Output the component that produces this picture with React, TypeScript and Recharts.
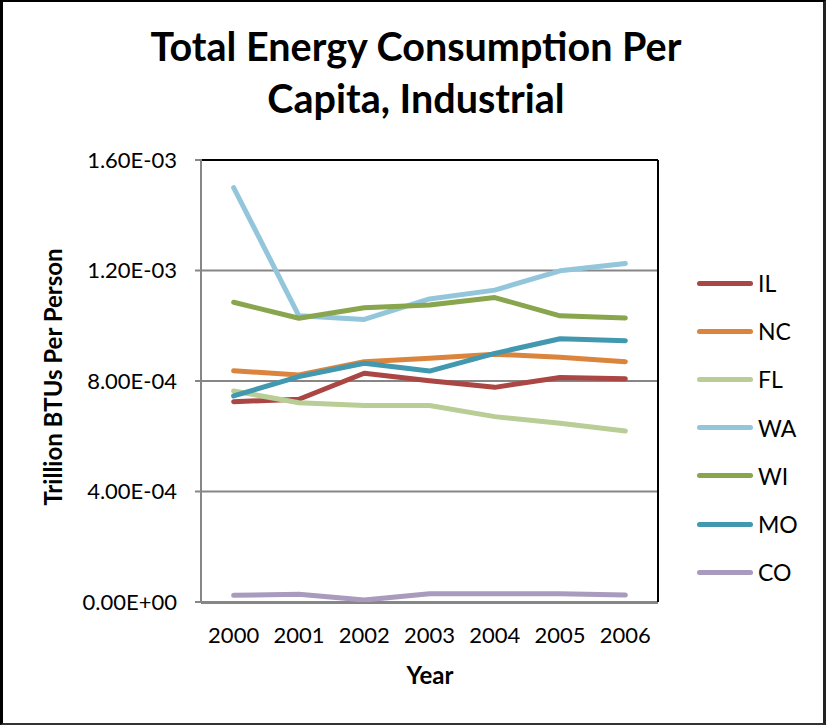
import { LineChart, Line, XAxis, YAxis, CartesianGrid } from "recharts";

const years = [2000, 2001, 2002, 2003, 2004, 2005, 2006];

// Trillion BTUs per person, industrial sector
const IL = [7.25e-4, 7.34e-4, 8.28e-4, 8.01e-4, 7.77e-4, 8.13e-4, 8.08e-4];
const NC = [8.37e-4, 8.22e-4, 8.7e-4, 8.82e-4, 8.97e-4, 8.86e-4, 8.7e-4];
const FL = [7.64e-4, 7.21e-4, 7.11e-4, 7.11e-4, 6.71e-4, 6.47e-4, 6.19e-4];
const WA = [1.5e-3, 1.036e-3, 1.023e-3, 1.097e-3, 1.129e-3, 1.199e-3, 1.225e-3];
const WI = [1.085e-3, 1.027e-3, 1.065e-3, 1.075e-3, 1.102e-3, 1.036e-3, 1.028e-3];
const MO = [7.46e-4, 8.16e-4, 8.64e-4, 8.36e-4, 9.0e-4, 9.53e-4, 9.46e-4];
const CO = [2.4e-5, 2.8e-5, 7e-6, 3.0e-5, 3.0e-5, 3.0e-5, 2.5e-5];

const yTicks = [0, 4e-4, 8e-4, 1.2e-3, 1.6e-3];
const yearEdges = [1999.5, 2000.5, 2001.5, 2002.5, 2003.5, 2004.5, 2005.5, 2006.5];

const series = [
  { key: "IL", values: IL, color: "#AA4643" },
  { key: "NC", values: NC, color: "#DB843D" },
  { key: "FL", values: FL, color: "#B9CD96" },
  { key: "WA", values: WA, color: "#93C6DA" },
  { key: "WI", values: WI, color: "#89A54E" },
  { key: "MO", values: MO, color: "#4198AF" },
  { key: "CO", values: CO, color: "#A99BBD" },
];

const data = years.map((year, i) => {
  const row: Record<string, number> = { year };
  series.forEach((s) => (row[s.key] = s.values[i]));
  return row;
});

const FONT = "Lato, 'Open Sans', sans-serif";
const GRAY = "#868686";
const X_DOMAIN = [1999.5, 2006.5];

// 1.60E-03 style, like a spreadsheet
const sci = (v: number) => {
  const [m, e] = v.toExponential(2).split("e");
  return `${m}E${e[0]}${e.slice(1).padStart(2, "0")}`;
};

export default function App() {
  return (
    <div
      style={{
        position: "absolute",
        left: 0,
        top: 0,
        width: 826,
        height: 725,
        background: "#fff",
        fontFamily: FONT,
      }}
    >
      <div
        style={{
          position: "absolute",
          left: 16,
          width: 800,
          top: 20,
          textAlign: "center",
          fontSize: 39.5,
          fontWeight: 700,
          lineHeight: "52px",
          color: "#000",
        }}
      >
        Total Energy Consumption Per
        <br />
        Capita, Industrial
      </div>

      <LineChart
        width={826}
        height={725}
        data={data}
        margin={{ top: 159, right: 167, bottom: 121, left: 0 }}
      >
        <CartesianGrid vertical={false} stroke={GRAY} strokeWidth={2} />
        {/* tick marks sit between the years */}
        <XAxis
          xAxisId="edges"
          dataKey="year"
          type="number"
          domain={X_DOMAIN}
          ticks={yearEdges}
          tick={false}
          height={1}
          tickSize={7}
          tickLine={{ stroke: GRAY, strokeWidth: 2 }}
          axisLine={{ stroke: GRAY, strokeWidth: 2 }}
        />
        <XAxis
          dataKey="year"
          type="number"
          domain={X_DOMAIN}
          ticks={years}
          height={1}
          tickSize={0}
          tickMargin={25}
          tickLine={false}
          axisLine={false}
          tick={{ fontSize: 22, fill: "#000", fontFamily: FONT }}
        />
        <XAxis
          xAxisId="top"
          orientation="top"
          dataKey="year"
          type="number"
          domain={X_DOMAIN}
          height={1}
          tick={false}
          tickLine={false}
          axisLine={{ stroke: "#000", strokeWidth: 2 }}
        />
        <YAxis
          domain={[0, 1.6e-3]}
          ticks={yTicks}
          width={201}
          tickSize={6}
          tickMargin={18}
          tickFormatter={sci}
          tick={{ fontSize: 22, fill: "#000", fontFamily: FONT }}
          tickLine={{ stroke: GRAY, strokeWidth: 2 }}
          axisLine={{ stroke: GRAY, strokeWidth: 2 }}
        />
        <YAxis
          yAxisId="right"
          orientation="right"
          width={1}
          tick={false}
          tickLine={false}
          axisLine={{ stroke: "#000", strokeWidth: 2 }}
        />
        {series.map((s) => (
          <Line
            key={s.key}
            dataKey={s.key}
            stroke={s.color}
            strokeWidth={5}
            strokeLinecap="round"
            strokeLinejoin="round"
            dot={false}
            activeDot={false}
            isAnimationActive={false}
          />
        ))}
      </LineChart>

      {/* value axis line, drawn over the plot edge */}
      <div
        style={{
          position: "absolute",
          left: 200,
          top: 159,
          width: 2,
          height: 444,
          background: GRAY,
        }}
      />

      <div
        style={{
          position: "absolute",
          left: 52,
          top: 377,
          transform: "translate(-50%, -50%) rotate(-90deg)",
          fontSize: 24,
          fontWeight: 700,
          whiteSpace: "nowrap",
        }}
      >
        Trillion BTUs Per Person
      </div>
      <div
        style={{
          position: "absolute",
          left: 330,
          width: 200,
          top: 660,
          textAlign: "center",
          fontSize: 24,
          fontWeight: 700,
        }}
      >
        Year
      </div>

      <div style={{ position: "absolute", left: 697, top: 259 }}>
        {series.map((s) => (
          <div
            key={s.key}
            style={{ display: "flex", alignItems: "center", height: 48.2, fontSize: 23 }}
          >
            <span
              style={{
                display: "inline-block",
                width: 56,
                height: 5,
                borderRadius: 3,
                background: s.color,
                marginRight: 5,
              }}
            />
            {s.key}
          </div>
        ))}
      </div>

      <div
        style={{
          position: "absolute",
          left: 0,
          top: 0,
          width: 826,
          height: 725,
          boxSizing: "border-box",
          borderTop: "2px solid #000",
          borderLeft: "3px solid #000",
          borderRight: "3px solid #222",
          borderBottom: "2px solid #333",
          pointerEvents: "none",
        }}
      />
    </div>
  );
}
